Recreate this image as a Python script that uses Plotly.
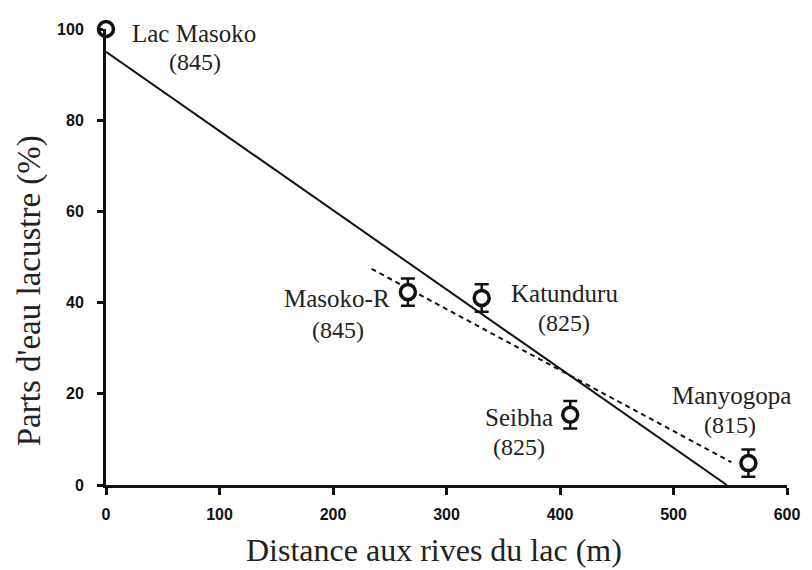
import plotly.graph_objects as go

# Sites: distance to the lake shore (m), share of lake water (%), error (%)
sites = ["Lac Masoko", "Masoko-R", "Katunduru", "Seibha", "Manyogopa"]
altitudes = ["(845)", "(845)", "(825)", "(825)", "(815)"]
distance_m = [0, 266, 331, 409, 566]
lake_share = [100, 42.3, 41.0, 15.4, 4.8]
share_err = [0, 3, 3, 3, 3]

# Regression lines (end points in data units)
fit_all_x = [0, 547]
fit_all_y = [95, 0]
fit_sub_x = [234, 551]
fit_sub_y = [47.4, 5.0]

# Label anchor points for site names and altitudes
name_x = [77.4, 203.5, 404, 364, 551]
name_y = [99.1, 40.8, 42.1, 14.9, 19.7]
alt_x = [78, 204, 403.5, 364, 550]
alt_y = [92.8, 34, 35.5, 8.3, 13.2]

x_ticks = [0, 100, 200, 300, 400, 500, 600]
y_ticks = [0, 20, 40, 60, 80, 100]

serif = "Liberation Serif"
sans = "Liberation Sans"
ink = "#111111"

fig = go.Figure()

fig.add_trace(go.Scatter(
    x=fit_all_x, y=fit_all_y, mode="lines",
    line=dict(color=ink, width=2), showlegend=False, cliponaxis=False,
))
fig.add_trace(go.Scatter(
    x=fit_sub_x, y=fit_sub_y, mode="lines",
    line=dict(color=ink, width=2, dash="5px,4px"), showlegend=False,
))
fig.add_trace(go.Scatter(
    x=distance_m, y=lake_share, mode="markers",
    marker=dict(symbol="circle", size=15, color="white",
                line=dict(color=ink, width=3.5)),
    error_y=dict(type="data", array=share_err, visible=True,
                 color=ink, thickness=2.5, width=7),
    showlegend=False, cliponaxis=False,
))

annotations = []
for nm, nx, ny in zip(sites, name_x, name_y):
    annotations.append(dict(x=nx, y=ny, xref="x", yref="y", text=nm,
                            xanchor="center", yanchor="middle", showarrow=False,
                            font=dict(family=serif, size=25, color="#222")))
for al, ax_, ay_ in zip(altitudes, alt_x, alt_y):
    annotations.append(dict(x=ax_, y=ay_, xref="x", yref="y", text=al,
                            xanchor="center", yanchor="middle", showarrow=False,
                            font=dict(family=serif, size=24, color="#222")))

# Axis titles
annotations.append(dict(x=0.481, y=-0.1425, xref="paper", yref="paper",
                        text="Distance aux rives du lac (m)", showarrow=False,
                        xanchor="center", yanchor="middle",
                        font=dict(family=serif, size=32, color="#222")))
annotations.append(dict(x=-0.113, y=0.425, xref="paper", yref="paper",
                        text="Parts d'eau lacustre (%)", showarrow=False, textangle=-90,
                        xanchor="center", yanchor="middle",
                        font=dict(family=serif, size=33, color="#222")))

fig.update_layout(
    width=812, height=570,
    margin=dict(l=106, r=16, t=29, b=85),
    plot_bgcolor="white", paper_bgcolor="white",
    annotations=annotations,
)
fig.update_xaxes(
    range=[0, 600], tickvals=x_ticks, ticktext=[str(v) for v in x_ticks],
    showgrid=False, zeroline=False, showline=True, linecolor=ink, linewidth=3,
    ticks="outside", ticklen=7, tickwidth=2.5, tickcolor=ink,
    ticklabelstandoff=6,
    tickfont=dict(family=sans, size=16, color=ink, weight="bold"),
)
fig.update_yaxes(
    range=[0, 100], tickvals=y_ticks, ticktext=[str(v) for v in y_ticks],
    showgrid=False, zeroline=False, showline=True, linecolor=ink, linewidth=3,
    ticks="outside", ticklen=6, tickwidth=2.5, tickcolor=ink,
    ticklabelstandoff=10,
    tickfont=dict(family=sans, size=16, color=ink, weight="bold"),
)

fig.write_html("out.html")
